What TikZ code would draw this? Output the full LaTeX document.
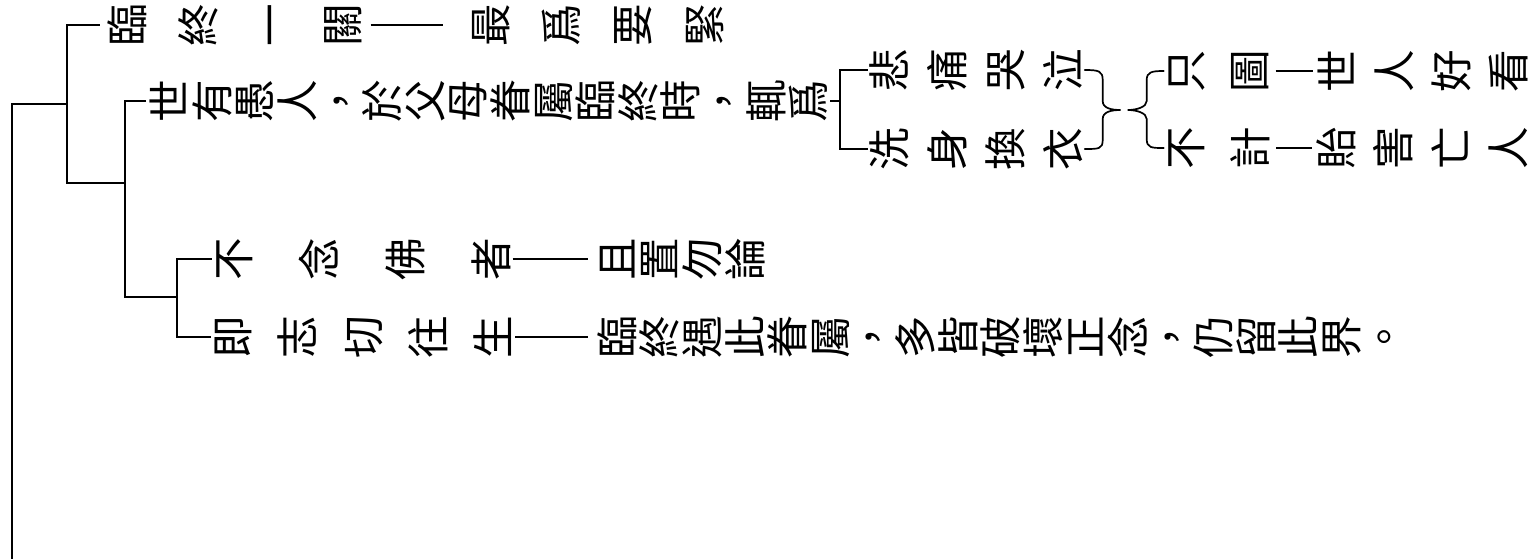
\documentclass[tikz,border=0pt]{standalone}
\usepackage{fontspec}
\newfontfamily\cjk{Noto Sans CJK TC}
\newlength\vtgap
\newif\ifvtfirst
\newcommand\vtchar[1]{\rotatebox[origin=c]{90}{\makebox[1em]{\smash{#1}\rule[-0.12em]{0pt}{1em}}}}
\newcommand\vt[2][0pt]{\setlength\vtgap{#1}\vtfirsttrue\vtloop#2\relax}
\def\vtloop#1{\ifx\relax#1\else\ifvtfirst\vtfirstfalse\else\hspace{\vtgap}\fi\vtchar{#1}\expandafter\vtloop\fi}
\tikzset{
  vrow/.style={inner sep=0pt, anchor=west, font=\cjk\fontsize{42.6}{51}\selectfont},
  tree/.style={line width=1.6pt},
  rootline/.style={line width=2.6pt},
  bracestyle/.style={line width=1.7pt, line cap=round}
}
\begin{document}
\begin{tikzpicture}[x=1pt, y=-1pt]
\fill[white] (0,0) rectangle (1530,559);
\useasboundingbox (0,0) rectangle (1530,559);
% text rows
\node[vrow] (A1) at (105.7,25) {\vt[29pt]{臨終一關}};
\node[vrow] (A2) at (468.7,25) {\vt[28.7pt]{最爲要緊}};
\node[vrow] (B) at (148,101) {\vt{世有愚人，於父母眷屬臨終時，輒爲}};
\node[vrow] (C1) at (867.7,70) {\vt[15.4pt]{悲痛哭泣}};
\node[vrow] (C2) at (867.7,149) {\vt[15.4pt]{洗身換衣}};
\node[vrow] (D1a) at (1163.7,71) {\vt[21.4pt]{只圖}};
\node[vrow] (D1b) at (1315.7,71) {\vt[14.4pt]{世人好看}};
\node[vrow] (D2a) at (1163.7,148) {\vt[22pt]{不計}};
\node[vrow] (D2b) at (1314.7,148) {\vt[14.7pt]{貽害亡人}};
\node[vrow] (E1) at (211.7,259) {\vt[43.4pt]{不念佛者}};
\node[vrow] (F1) at (595.7,259) {\vt{且置勿論}};
\node[vrow] (E2) at (210.7,337) {\vt[22.8pt]{即志切往生}};
\node[vrow] (F2) at (595.7,337) {\vt{臨終遇此眷屬，多皆破壞正念，仍留此界。}};
% tree spine points
\coordinate (b1) at (67,104);
\coordinate (b2) at (125,183);
\coordinate (b3) at (177,297);
\coordinate (b4) at (840,101);
\coordinate (root) at (12,560);
\draw[rootline] (root) |- (b1);
\draw[tree, shorten <=6pt] (A1.west) -| (b1) |- (b2);
\draw[tree, shorten <=2pt] (B.west) -| (b2) |- (b3);
\draw[tree] (E1.west) -| (b3) |- (E2.west);
\draw[tree] (B.east) -- (b4);
\draw[tree] (C1.west) -| (b4) |- (C2.west);
\draw[tree, shorten <=7pt, shorten >=26pt] (A1.east) -- (A2.west);
\draw[tree, shorten >=8pt] (E1.east) -- (F1.west);
\draw[tree, shorten >=8pt] (E2.east) -- (F2.west);
\draw[tree, shorten <=5pt, shorten >=3pt] (D1a.east) -- (D1b.west);
\draw[tree, shorten <=5pt, shorten >=3pt] (D2a.east) -- (D2b.west);
% braces
\draw[bracestyle] (C1.east)
  .. controls +(14,0) and +(0,-9) .. ++(18,10)
  -- ++(0,21)
  .. controls +(0,7) and +(-10,0) .. ++(18,9)
  .. controls +(-10,0) and +(0,-7) .. ++(-18,9)
  -- ++(0,21)
  .. controls +(0,9) and +(14,0) .. (C2.east);
\draw[bracestyle] (D1a.west)
  .. controls +(-12,0) and +(0,-8) .. ++(-17,9)
  -- ++(0,21)
  .. controls +(0,6) and +(9,0) .. ++(-19,9)
  .. controls +(9,0) and +(0,-6) .. ++(19,9)
  -- ++(0,20)
  .. controls +(0,9) and +(-12,0) .. (D2a.west);
\end{tikzpicture}
\end{document}
